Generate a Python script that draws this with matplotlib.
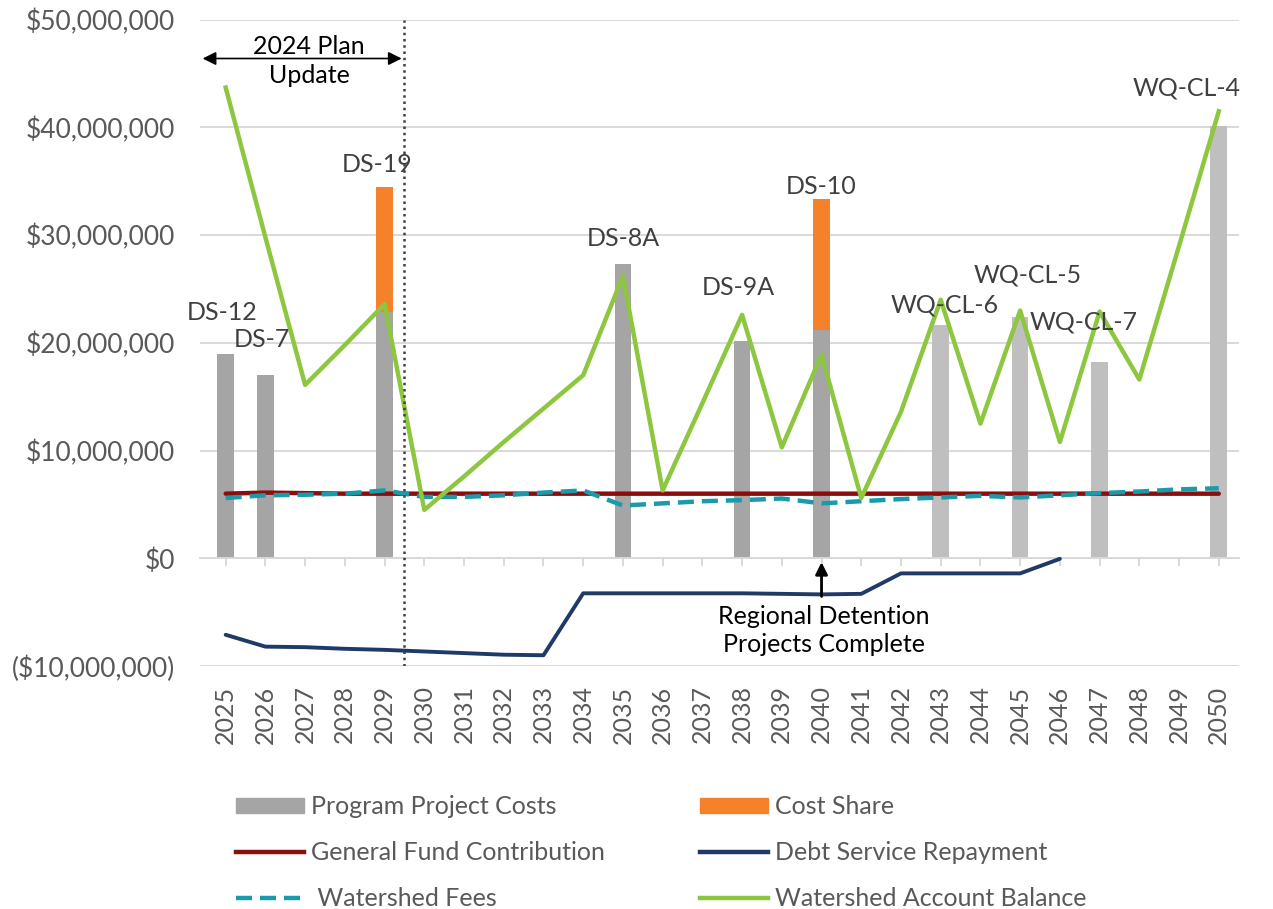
import numpy as np
import matplotlib
matplotlib.use("Agg")
import matplotlib.pyplot as plt
from matplotlib.patches import Patch
from matplotlib.lines import Line2D
from matplotlib.ticker import FuncFormatter

plt.rcParams['font.family'] = ['Lato', 'DejaVu Sans']

# values in $ millions
years = list(range(2025, 2051))
project_costs = [19.0, 17.0, 0, 0, 22.9, 0, 0, 0, 0, 0, 27.3, 0, 0, 20.2, 0,
                 21.2, 0, 0, 21.7, 0, 22.4, 0, 18.2, 0, 0, 40.1]
cost_share = [0, 0, 0, 0, 11.6, 0, 0, 0, 0, 0, 0, 0, 0, 0, 0,
              12.2, 0, 0, 0, 0, 0, 0, 0, 0, 0, 0]
general_fund = [6.0, 6.1, 6.05, 6.0, 6.0, 6.0, 6.0, 6.0, 6.0, 6.0, 6.0, 6.0, 6.0,
                6.0, 6.0, 6.0, 6.0, 6.0, 6.0, 6.0, 6.0, 6.0, 6.0, 6.0, 6.0, 6.0]
watershed_fees = [5.6, 5.85, 5.9, 6.0, 6.3, 5.7, 5.7, 5.85, 6.1, 6.3, 4.9, 5.1, 5.3,
                  5.4, 5.55, 5.1, 5.3, 5.5, 5.65, 5.8, 5.65, 5.85, 6.05, 6.2, 6.4, 6.5]
debt_service = [-7.1, -8.2, -8.25, -8.4, -8.5, -8.65, -8.8, -8.95, -9.0, -3.25, -3.25,
                -3.25, -3.25, -3.25, -3.3, -3.35, -3.3, -1.4, -1.4, -1.4, -1.4, -0.05,
                np.nan, np.nan, np.nan, np.nan]
account_balance = [43.7, 29.8, 16.1, 19.8, 23.6, 4.5, 7.6, 10.8, 13.9, 17.0, 26.2, 6.3,
                   14.4, 22.6, 10.3, 18.9, 5.6, 13.6, 24.0, 12.5, 23.0, 10.8, 22.9, 16.6,
                   29.0, 41.5]
project_names = {2025: 'DS-12', 2026: 'DS-7', 2029: 'DS-19', 2035: 'DS-8A', 2038: 'DS-9A',
                 2040: 'DS-10', 2043: 'WQ-CL-6', 2045: 'WQ-CL-5', 2047: 'WQ-CL-7',
                 2050: 'WQ-CL-4'}

# label placement (x offset in years, y in $M)
label_pos = {2025: (-0.1, 22.8), 2026: (-0.1, 20.3), 2029: (-0.2, 36.6), 2035: (0.0, 29.7),
             2038: (-0.1, 25.1), 2040: (0.0, 34.5), 2043: (0.1, 23.5), 2045: (0.2, 26.3),
             2047: (-0.4, 21.9), 2050: (-0.8, 43.7)}

dark_gray = '#A5A5A5'
light_gray = '#BFBFBF'
bar_colors = [dark_gray if y <= 2040 else light_gray for y in years]
fees_dash = (0, (3.6, 1.8))

fig = plt.figure(figsize=(12.73, 9.09), dpi=100)
ax = fig.add_axes([0.157, 0.2673, 0.816, 0.711])

ax.bar(years, project_costs, width=0.42, color=bar_colors, zorder=2)
ax.bar(years, cost_share, bottom=project_costs, width=0.42, color='#F5822A', zorder=2)

ax.plot(years, general_fund, color='#8B0E0E', lw=3.2, zorder=3, solid_capstyle='round')
ax.plot(years, watershed_fees, color='#1A9AAA', lw=3.2, ls=fees_dash, zorder=4)
ax.plot(years, debt_service, color='#1F3A68', lw=2.8, zorder=4, solid_capstyle='round')
ax.plot(years, account_balance, color='#8DC63F', lw=3.2, zorder=5)

for yr, name in project_names.items():
    dx, yy = label_pos[yr]
    ax.text(yr + dx, yy, name, ha='center', va='center', fontsize=18, color='#404040', zorder=6)

ax.set_xlim(2024.35, 2050.5)
ax.set_ylim(-10, 50)
ax.set_yticks(np.arange(-10, 51, 10))
ax.yaxis.set_major_formatter(FuncFormatter(
    lambda v, p: '$0' if v == 0 else (f'${v * 1e6:,.0f}' if v > 0 else f'(${-v * 1e6:,.0f})')))
ax.tick_params(axis='y', length=0, labelsize=19, labelcolor='#595959', pad=18)
ax.grid(axis='y', color='#D9D9D9', lw=1.4, zorder=0)
ax.set_axisbelow(True)

for s in ['top', 'right', 'left']:
    ax.spines[s].set_visible(False)
ax.spines['bottom'].set_position(('data', 0))
ax.spines['bottom'].set_color('#D9D9D9')
ax.spines['bottom'].set_linewidth(1.4)
ax.set_xticks(years)
ax.tick_params(axis='x', length=6, color='#D9D9D9', width=1.4, labelbottom=False)

sec = ax.secondary_xaxis(0)
sec.set_xticks(years)
sec.set_xticklabels([str(y) for y in years], rotation=90)
sec.tick_params(length=0, labelsize=18, labelcolor='#595959', pad=14)
sec.spines['bottom'].set_visible(False)

# 2024 plan update span
ax.axvline(2029.5, color='#404040', ls=(0, (1, 1.5)), lw=1.8, zorder=6)
ax.annotate('', xy=(2024.35, 46.4), xytext=(2029.5, 46.4),
            arrowprops=dict(arrowstyle='<|-|>', color='black', lw=1.2, mutation_scale=20),
            zorder=6)
ax.text(2027.1, 46.2, '2024 Plan\nUpdate', ha='center', va='center', fontsize=18,
        color='black', linespacing=1.3)

# regional detention arrow
ax.annotate('', xy=(2040, -0.1), xytext=(2040, -3.8),
            arrowprops=dict(arrowstyle='-|>', color='black', lw=2, mutation_scale=18),
            zorder=6)
ax.text(2040.05, -6.7, 'Regional Detention\nProjects Complete', ha='center', va='center',
        fontsize=18, color='black', linespacing=1.3)

handles = [
    Patch(color=dark_gray, label='Program Project Costs'),
    Line2D([], [], color='#8B0E0E', lw=3.2, label='General Fund Contribution'),
    Line2D([], [], color='#1A9AAA', lw=3.2, ls=fees_dash, label=' Watershed Fees'),
    Patch(color='#F5822A', label='Cost Share'),
    Line2D([], [], color='#1F3A68', lw=3.2, label='Debt Service Repayment'),
    Line2D([], [], color='#8DC63F', lw=3.2, label='Watershed Account Balance'),
]
fig.legend(handles=handles, ncol=2, loc='lower left', bbox_to_anchor=(0.168, -0.026),
           frameon=False, fontsize=18, labelcolor='#595959', handlelength=2.7,
           handleheight=0.55, handletextpad=0.3, columnspacing=3.8, labelspacing=0.92)

fig.savefig('out.png', dpi=100)
